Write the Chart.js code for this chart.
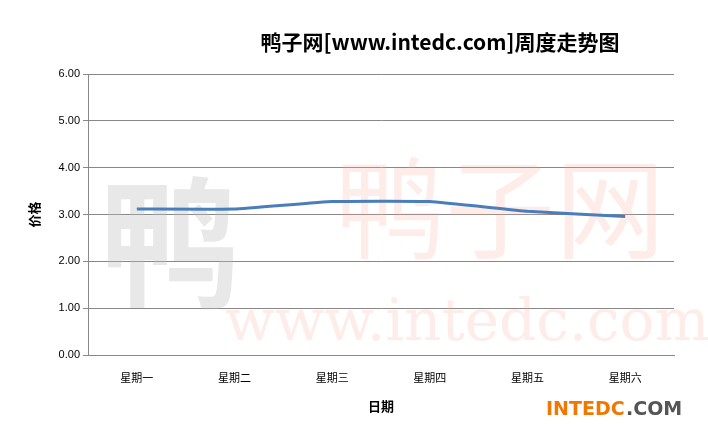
<!DOCTYPE html>
<html>
<head>
<meta charset="utf-8">
<script src="https://cdn.jsdelivr.net/npm/chart.js@4"></script>
<style>
  html, body { margin: 0; padding: 0; background: #fff; }
  #wrap { width: 708px; height: 429px; position: relative; }
</style>
</head>
<body>
<div id="wrap"><canvas id="c"></canvas></div>
<script>
const chartTitle = '鸭子网[www.intedc.com]周度走势图';
const days = ['星期一', '星期二', '星期三', '星期四', '星期五', '星期六'];
const prices = [3.12, 3.12, 3.28, 3.28, 3.07, 2.96];
const yTicks = [0, 1, 2, 3, 4, 5, 6];

// faint watermark, title and corner logo
const decor = {
  id: 'decor',
  beforeDatasetsDraw(chart) {
    const ctx = chart.ctx;
    ctx.save();
    ctx.fillStyle = 'rgba(250,170,150,0.22)';
    ctx.font = '110px "Noto Sans CJK SC"';
    ctx.fillText('鸭子网', 335, 250);
    ctx.font = '58px "DejaVu Serif"';
    ctx.fillText('www.intedc.com', 225, 340);
    ctx.fillStyle = 'rgba(190,190,190,0.35)';
    ctx.font = 'bold 140px "Noto Sans CJK SC"';
    ctx.fillText('鸭', 100, 295);
    ctx.restore();
  },
  afterDraw(chart) {
    const ctx = chart.ctx;
    ctx.save();
    ctx.fillStyle = '#000';
    ctx.textAlign = 'center';
    ctx.font = 'bold 21px "Noto Sans CJK SC"';
    ctx.fillText(chartTitle, 440, 50);
    ctx.textAlign = 'left';
    ctx.font = 'bold 19px "DejaVu Sans"';
    ctx.fillStyle = '#f07800';
    ctx.fillText('INTEDC', 546, 415);
    ctx.fillStyle = '#555';
    ctx.fillText('.COM', 626, 415);
    ctx.restore();
  }
};

new Chart(document.getElementById('c'), {
  type: 'line',
  data: {
    labels: days,
    datasets: [{
      data: prices,
      borderColor: '#4a7ebb',
      borderWidth: 3,
      pointRadius: 0,
      tension: 0.1
    }]
  },
  options: {
    responsive: true,
    maintainAspectRatio: false,
    animation: false,
    layout: { padding: { left: 22, right: 34, top: 74, bottom: 11 } },
    plugins: {
      legend: { display: false },
      tooltip: { enabled: false }
    },
    scales: {
      x: {
        offset: true,
        grid: { display: false },
        border: { color: '#888' },
        ticks: { color: '#000', font: { family: '"Noto Sans CJK SC"', size: 11 }, padding: 8 },
        title: { display: true, text: '日期', color: '#000', font: { family: '"Noto Sans CJK SC"', size: 13, weight: 'bold' }, padding: { top: 6 } }
      },
      y: {
        min: 0, max: 6,
        afterBuildTicks: axis => { axis.ticks = yTicks.map(v => ({ value: v })); },
        grid: { color: '#888', tickLength: 5 },
        border: { color: '#888' },
        ticks: { color: '#000', font: { family: 'Liberation Sans', size: 11 }, callback: v => v.toFixed(2) },
        title: { display: true, text: '价格', color: '#000', font: { family: '"Noto Sans CJK SC"', size: 13, weight: 'bold' }, padding: { bottom: 14 } }
      }
    }
  },
  plugins: [decor]
});
</script>
</body>
</html>
